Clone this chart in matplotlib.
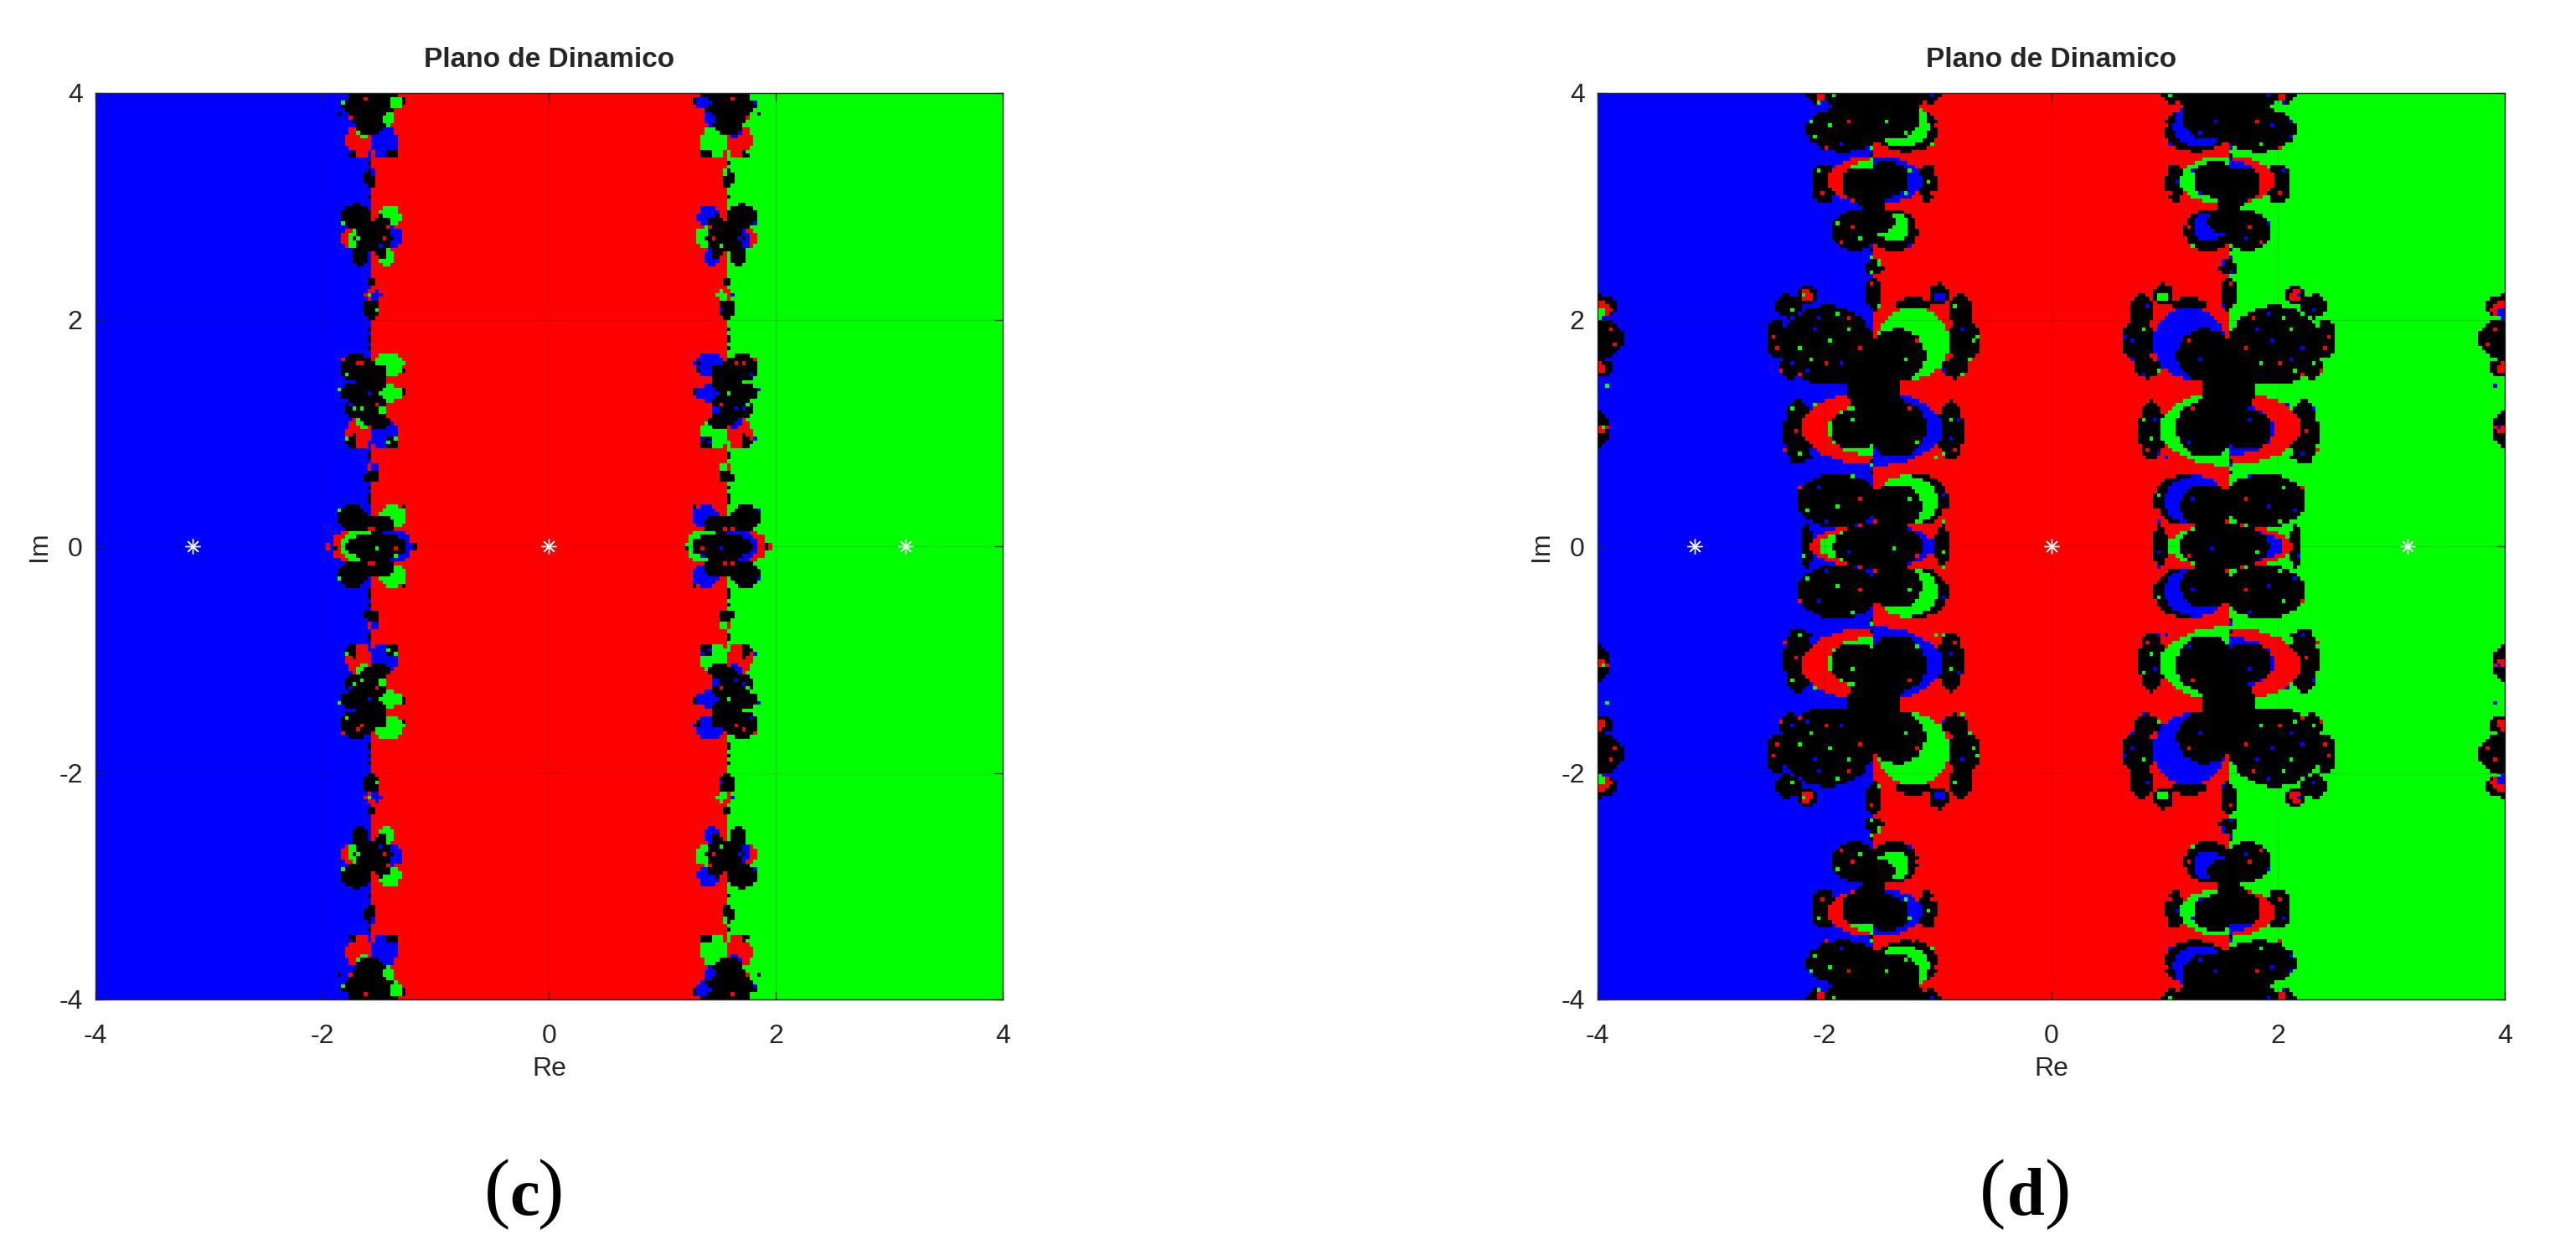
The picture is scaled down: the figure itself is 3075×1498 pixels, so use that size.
#!/usr/bin/env python3
"""Plano de Dinamico, panels (c) and (d): basins of attraction on a square cell grid."""
import numpy as np
import matplotlib; matplotlib.use("Agg")
import matplotlib.pyplot as plt
from matplotlib.colors import ListedColormap

plt.rcParams.update({"font.family": ["Liberation Sans", "DejaVu Sans"], "axes.unicode_minus": False})
W, H = 3075, 1498
INK = "#262626"

TICKS = [-4, -2, 0, 2, 4]
ROOTS_RE = [-3.14, 0, 3.14]
ROOTS_IM = [0, 0, 0]
CUT = -1.565      # basin border on the left, the right one is its mirror
N_CELLS = 240
CODES = "brgk"

# everything below is read off the upper left quarter of each panel, the picture
# is symmetric in Im and mirrored in Re with blue and green swapped
# (x0, x1, y0, y1, code): ellipse inside that box
C_BLOBS = [
    # around y = 0
    (-1.90, -1.55, -.15, .15, "r"), (-1.85, -1.50, -.14, .14, "g"), (-1.55, -1.21, -.15, .15, "b"),
    (-1.79, -1.25, -.12, .12, "k"), (-1.68, -1.42, .03, .27, "k"), (-1.87, -1.60, .14, .36, "k"),
    (-1.49, -1.26, .16, .36, "g"), (-1.52, -1.36, .10, .27, "k"),
    # small one near 0.65
    (-1.61, -1.56, .65, .74, "r"), (-1.56, -1.50, .65, .74, "b"), (-1.63, -1.50, .55, .67, "k"),
    # y = 1.4 group
    (-1.79, -1.57, .85, 1.14, "r"), (-1.57, -1.34, .85, 1.14, "b"), (-1.69, -1.58, 1.03, 1.15, "g"),
    (-1.79, -1.69, .86, .96, "k"), (-1.44, -1.34, .86, .96, "k"), (-1.60, -1.40, 1.03, 1.18, "k"),
    (-1.72, -1.41, 1.05, 1.64, "k"), (-1.80, -1.52, 1.12, 1.32, "k"), (-1.87, -1.60, 1.29, 1.43, "k"),
    (-1.49, -1.42, 1.15, 1.24, "g"), (-1.49, -1.30, 1.28, 1.42, "g"), (-1.30, -1.26, 1.33, 1.40, "k"),
    (-1.85, -1.55, 1.45, 1.70, "k"), (-1.54, -1.29, 1.50, 1.70, "g"), (-1.56, -1.42, 1.46, 1.60, "k"),
    # small one near 2.1
    (-1.62, -1.56, 2.16, 2.26, "r"), (-1.56, -1.48, 2.16, 2.26, "b"), (-1.64, -1.49, 2.00, 2.18, "k"),
    (-1.60, -1.54, 2.28, 2.38, "k"),
    # y = 2.72 group
    (-1.83, -1.68, 2.63, 2.81, "r"), (-1.78, -1.67, 2.64, 2.79, "g"), (-1.44, -1.30, 2.62, 2.82, "b"),
    (-1.72, -1.38, 2.60, 2.85, "k"), (-1.83, -1.56, 2.80, 3.02, "k"), (-1.50, -1.31, 2.82, 3.00, "g"),
    (-1.54, -1.41, 2.80, 2.92, "k"), (-1.75, -1.60, 2.47, 2.64, "k"), (-1.50, -1.37, 2.47, 2.63, "g"),
    (-1.54, -1.42, 2.54, 2.64, "k"),
    # small one near 3.25
    (-1.62, -1.52, 3.15, 3.35, "k"), (-1.56, -1.52, 3.27, 3.34, "b"),
    # top group
    (-1.79, -1.57, 3.42, 3.72, "r"), (-1.57, -1.34, 3.42, 3.72, "b"), (-1.78, -1.69, 3.42, 3.51, "k"),
    (-1.44, -1.34, 3.42, 3.51, "k"), (-1.69, -1.58, 3.60, 3.72, "g"), (-1.74, -1.40, 3.62, 4.10, "k"),
    (-1.85, -1.32, 3.78, 4.10, "k"), (-1.41, -1.29, 3.85, 3.98, "g"), (-1.29, -1.25, 3.88, 3.97, "k"),
    (-1.46, -1.36, 3.71, 3.83, "g"), (-1.84, -1.78, 3.92, 4.01, "b"),
]
# (x, y, code): single cells
C_SPECKS = [
    (-1.57, .38, "k"), (-1.57, .42, "k"), (-1.57, .46, "k"), (-1.57, .52, "k"), (-1.57, .77, "k"), (-1.57, .81, "k"),
    (-1.57, 1.74, "k"), (-1.57, 1.80, "k"), (-1.57, 1.86, "k"), (-1.57, 1.92, "k"),
    (-1.57, 3.08, "k"), (-1.57, 3.38, "k"), (-1.52, .02, "g"), (-1.36, .03, "r"), (-1.36, .07, "g"),
    (-1.70, 1.62, "r"), (-1.78, 1.52, "g"), (-1.30, 1.55, "k"), (-1.30, 1.60, "k"), (-1.84, 1.38, "g"), (-1.28, 1.34, "k"),
    (-1.72, 1.22, "g"), (-1.72, .98, "k"), (-1.42, .92, "g"), (-1.74, 2.76, "g"), (-1.68, 2.70, "g"), (-1.46, 2.72, "r"),
    (-1.82, 3.90, "g"), (-1.62, 3.94, "r"), (-1.74, 3.78, "r"), (-1.40, 3.92, "g"), (-1.75, 3.48, "b"), (-1.66, .86, "b"),
    (-1.90, .03, "k"), (-1.20, .01, "k"), (-1.28, .34, "k"), (-1.86, .30, "g"), (-1.60, .14, "r"), (-1.56, .16, "r"),
    (-1.86, 1.34, "b"), (-1.80, 1.44, "b"), (-1.82, 1.66, "r"), (-1.76, 1.24, "b"), (-1.66, 1.20, "g"), (-1.58, 1.36, "b"),
    (-1.28, 1.60, "g"), (-1.84, 3.80, "k"), (-1.66, 1.60, "r"), (-1.52, 1.26, "r"), (-1.80, .94, "g"), (-1.36, .95, "g"),
    (-1.82, 2.86, "g"), (-1.50, 2.66, "b"), (-1.88, .10, "r"), (-1.94, .02, "r"), (-1.60, 2.20, "g"), (-1.52, 2.08, "g"),
]

# black fringe lobes, painted first
D_FRINGE = [
    (-2.16, -1.96, 3.91, 4.10, "k"), (-2.07, -1.99, 3.94, 4.02, "r"), (-1.14, -.97, 3.91, 4.10, "k"),
    (-1.56, -.99, 3.48, 3.87, "k"), (-2.11, -1.90, 3.02, 3.38, "k"), (-1.17, -1.01, 3.04, 3.38, "k"),
    (-1.60, -1.17, 2.60, 2.97, "k"),
    (-.92, -.62, 1.63, 2.01, "k"), (-1.08, -.90, 2.12, 2.32, "k"), (-1.03, -.94, 2.15, 2.24, "b"),
    (-.90, -.69, 1.95, 2.22, "k"), (-.97, -.73, 1.48, 1.66, "k"), (-1.37, -1.06, 2.06, 2.19, "k"),
    (-2.36, -2.10, .72, 1.29, "k"), (-1.00, -.77, .75, 1.29, "k"), (-1.50, -.90, .185, .63, "k"),
    (-2.21, -2.10, -.19, .19, "k"), (-1.03, -.90, -.19, .19, "k"),
    # near the left edge
    (-4.20, -3.77, 1.66, 2.01, "k"), (-4.20, -3.83, 2.01, 2.22, "k"), (-4.10, -3.88, 2.02, 2.16, "r"),
    (-4.10, -3.93, 2.01, 2.11, "g"), (-4.10, -3.86, 1.49, 1.66, "k"), (-4.10, -3.92, 1.52, 1.62, "r"),
    (-4.10, -3.90, .87, 1.20, "k"), (-4.05, -3.91, 1.00, 1.08, "r"),
]
# (x_out, y0, y1, code): half ellipse from the basin border out to x_out
D_HALVES = [
    (-1.97, 3.02, 3.44, "r"), (-1.85, 3.04, 3.40, "g"), (-1.14, 3.01, 3.45, "b"),
    (-2.20, .72, 1.37, "r"), (-1.97, .80, 1.26, "g"), (-.96, .71, 1.37, "b"),
    (-2.13, -.19, .19, "r"), (-2.05, -.15, .15, "g"), (-1.03, -.19, .19, "b"),
]
# green crescents and black bodies on top of the halves
D_BODIES = [
    (-1.54, -1.08, 3.52, 3.91, "g"), (-1.54, -1.25, 2.69, 2.95, "g"), (-1.54, -.90, 1.48, 2.11, "g"),
    (-1.54, -1.00, .19, .62, "g"),
    (-1.96, -1.14, 3.60, 4.40, "k"), (-2.16, -1.50, 3.48, 3.87, "k"), (-1.64, -1.17, 3.59, 3.94, "k"),
    (-1.85, -1.50, 3.04, 3.35, "k"), (-1.62, -1.25, 3.08, 3.40, "k"), (-1.69, -1.45, 2.88, 3.20, "k"),
    (-1.95, -1.52, 2.61, 2.96, "k"), (-1.60, -1.37, 2.77, 2.96, "k"),
    (-1.65, -1.48, 2.39, 2.53, "k"), (-1.55, -1.48, 2.47, 2.53, "g"), (-1.64, -1.49, 2.08, 2.36, "k"),
    (-2.38, -1.56, 1.42, 2.12, "k"), (-2.51, -2.33, 1.65, 2.01, "k"), (-2.24, -2.07, 2.12, 2.31, "k"),
    (-2.21, -2.10, 2.16, 2.26, "r"), (-2.44, -2.21, 2.01, 2.22, "k"), (-2.40, -2.19, 1.48, 1.67, "k"),
    (-1.60, -1.11, 1.46, 1.92, "k"), (-1.80, -1.33, 1.10, 1.72, "k"),
    (-1.95, -1.50, .85, 1.21, "k"), (-1.64, -1.10, .79, 1.29, "k"),
    (-2.24, -1.52, .16, .64, "k"), (-1.62, -1.14, .16, .55, "k"), (-1.92, -1.12, -.20, .20, "k"),
]
D_SPECKS = [
    (-1.95, 3.70, "g"), (-2.10, 3.60, "g"), (-1.85, 3.55, "b"), (-1.80, 3.75, "r"), (-2.00, 3.50, "r"), (-1.45, 3.75, "g"),
    (-1.30, 3.65, "g"), (-1.05, 3.55, "g"), (-1.03, 3.70, "r"), (-2.12, 3.75, "g"), (-1.20, 3.50, "k"), (-1.57, 3.50, "g"),
    (-1.57, 3.45, "k"), (-1.57, 3.41, "g"), (-2.05, 3.30, "g"), (-2.02, 3.10, "r"), (-1.10, 3.20, "g"), (-1.05, 3.10, "r"), (-1.25, 3.30, "g"),
    (-1.30, 3.12, "g"), (-1.70, 3.20, "k"), (-1.90, 2.85, "g"), (-1.75, 2.80, "r"), (-1.70, 2.70, "g"), (-1.85, 2.68, "r"),
    (-1.25, 2.65, "b"), (-1.20, 2.80, "r"), (-1.57, 2.60, "k"), (-1.57, 2.56, "g"), (-1.58, 2.30, "r"), (-1.52, 2.12, "g"),
    (-2.10, 1.90, "b"), (-1.95, 1.80, "g"), (-2.20, 1.75, "g"), (-1.85, 1.60, "b"), (-2.00, 1.60, "r"), (-1.80, 1.90, "g"),
    (-2.15, 1.55, "b"), (-2.42, 1.75, "r"), (-2.46, 1.85, "r"), (-2.38, 1.55, "r"), (-2.20, 1.52, "r"), (-2.18, 2.20, "g"),
    (-1.30, 1.65, "g"), (-1.20, 1.80, "r"), (-.80, 1.90, "b"), (-.70, 1.80, "g"), (-.95, 1.55, "b"), (-.85, 2.10, "g"),
    (-2.30, 1.20, "g"), (-2.25, 1.00, "r"), (-2.20, .80, "g"), (-1.75, 1.10, "g"), (-1.65, .95, "k"), (-1.25, 1.20, "r"),
    (-1.20, .90, "g"), (-.90, 1.10, "g"), (-.85, .85, "r"), (-.95, .80, "g"), (-2.05, .50, "b"), (-1.90, .35, "g"),
    (-1.70, .40, "r"), (-2.15, .30, "g"), (-1.25, .40, "g"), (-1.10, .60, "k"), (-.95, .30, "r"), (-.95, .45, "b"),
    (-1.57, .70, "g"), (-1.57, .66, "k"), (-1.57, .74, "k"), (-1.57, 2.42, "g"),
    (-1.80, .05, "b"), (-1.40, .03, "g"), (-1.20, .08, "r"), (-.95, .05, "g"), (-3.90, 1.90, "r"), (-3.85, 1.78, "r"),
    (-3.92, 1.40, "g"), (-3.95, 1.04, "g"), (-2.06, 3.92, "g"), (-1.93, 3.98, "g"), (-1.05, 3.98, "b"),
    (-2.30, 2.08, "g"), (-2.36, 2.00, "b"), (-1.90, 2.05, "g"), (-1.78, 2.00, "r"), (-1.70, 1.75, "r"), (-2.04, 2.00, "b"),
    (-2.12, 1.64, "g"), (-2.30, 1.60, "b"), (-.72, 1.66, "g"), (-.66, 1.86, "g"), (-.80, 1.50, "g"), (-1.05, 1.44, "r"),
    (-2.12, .78, "k"), (-2.34, .85, "r"), (-2.08, 1.24, "g"), (-.82, 1.12, "b"), (-.88, .95, "b"), (-1.02, .78, "g"),
    (-2.20, .50, "r"), (-2.00, .22, "b"), (-1.75, .60, "g"), (-1.00, .62, "r"), (-.94, .20, "g"), (-2.18, .10, "g"),
]


def paint(grid, cx, cy, rx, ry, code, side=0):
    xs = -4 + 8 * (np.arange(N_CELLS) + .5) / N_CELLS
    X, Y = np.meshgrid(xs, xs)
    m = ((X - cx) / rx) ** 2 + ((Y - cy) / ry) ** 2 <= 1
    if side:
        m &= (X - cx) * side >= 0
    grid[m] = CODES.index(code)


def basin_grid(blobs, halves, bodies, specks):
    xs = -4 + 8 * (np.arange(N_CELLS) + .5) / N_CELLS
    X, _ = np.meshgrid(xs, xs)
    grid = np.full((N_CELLS, N_CELLS), CODES.index("r"))
    grid[X < CUT] = CODES.index("b")
    grid[X > -CUT] = CODES.index("g")
    for sx in (1, -1):
        swap = {"b": "b", "g": "g"} if sx > 0 else {"b": "g", "g": "b"}
        for sy in (1, -1):
            def put(x0, x1, y0, y1, c):
                paint(grid, sx * (x0 + x1) / 2, sy * (y0 + y1) / 2, (x1 - x0) / 2, (y1 - y0) / 2, swap.get(c, c))
            for b in blobs:
                put(*b)
            for x_out, y0, y1, c in halves:
                side = sx if x_out > CUT else -sx
                paint(grid, sx * CUT, sy * (y0 + y1) / 2, abs(x_out - CUT), (y1 - y0) / 2, swap.get(c, c), side)
            for b in bodies:
                put(*b)
            for x, y, c in specks:
                i = int((sx * x + 4) / 8 * N_CELLS); j = int((sy * y + 4) / 8 * N_CELLS)
                if 0 <= i < N_CELLS and 0 <= j < N_CELLS:
                    grid[j, i] = CODES.index(swap.get(c, c))
    return grid


def panel(box, grid):
    l, t, r, b = box
    ax = fig.add_axes([l / W, 1 - b / H, (r - l) / W, (b - t) / H])
    cmap = ListedColormap(["#0000ff", "#ff0000", "#00ff00", "#000000"])
    ax.imshow(grid, origin="lower", extent=(-4, 4, -4, 4), cmap=cmap, vmin=0, vmax=3,
              interpolation="nearest", aspect="auto", zorder=1)
    ax.plot(ROOTS_RE, ROOTS_IM, ls="none", marker=(8, 2, 0), ms=13, mew=1.0, color="#f4f4f4", zorder=4)
    ax.set_xlim(-4, 4); ax.set_ylim(-4, 4)
    ax.set_xticks(TICKS); ax.set_yticks(TICKS)
    ax.set_axisbelow(False)
    ax.grid(True, color="black", alpha=.15, lw=.9, zorder=3)
    ax.tick_params(direction="in", top=True, right=True, length=7, width=.9, color=INK,
                   labelcolor=INK, labelsize=23, pad=11)
    ax.tick_params(axis="x", pad=21)
    for s in ax.spines.values():
        s.set_color(INK); s.set_linewidth(1.0); s.set_zorder(5)
    ax.set_xlabel("Re", fontsize=23, color=INK, labelpad=6)
    ax.set_ylabel("Im", fontsize=23, color=INK, labelpad=6)
    ax.set_title("Plano de Dinamico", fontsize=24, fontweight="bold", color=INK, pad=22)
    return ax


def caption(x_open, x_letter, x_close, letter):
    y = 1 - 1450 / H
    kw = dict(family="Liberation Serif", color="black", va="baseline", ha="center")
    fig.text(x_open / W, y + 2 / H, "(", fontsize=68, **kw)
    fig.text(x_letter / W, y, letter, fontsize=58, fontweight="bold", **kw)
    fig.text(x_close / W, y + 2 / H, ")", fontsize=68, **kw)


fig = plt.figure(figsize=(W / 100, H / 100), dpi=100, facecolor="white")
panel((114, 111, 1197, 1193), basin_grid(C_BLOBS, [], [], C_SPECKS))
panel((1907, 111, 2990, 1193), basin_grid(D_FRINGE, D_HALVES, D_BODIES, D_SPECKS))
caption(594, 626, 658, "c")
caption(2379, 2418, 2457, "d")
fig.savefig("out.png", dpi=100, facecolor="white")
